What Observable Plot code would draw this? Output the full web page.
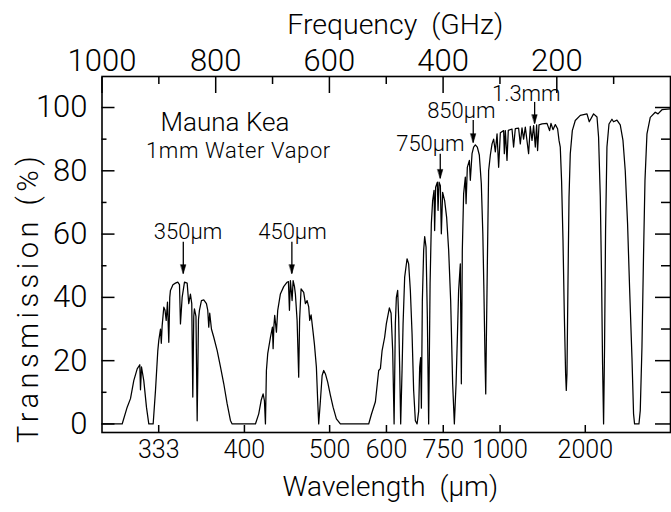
<!DOCTYPE html>
<html><head><meta charset="utf-8">
<script src="https://cdn.jsdelivr.net/npm/d3@7"></script>
<script src="https://cdn.jsdelivr.net/npm/@observablehq/plot@0.6"></script>
<style>body{margin:0;background:#fff}</style>
</head><body><div id="chart"></div>
<script>
const C = 299792.458; // wavelength (µm) × frequency (GHz)

// [frequency GHz, transmission %]
const spectrumPoints = [
[1000,0],[964.5,0],[955.7,5.3],[949.9,8],[944.1,13.7],[938.1,17.4],[933.5,18.7],[932.3,10.8],[930.5,18],[926.5,13.7],[921.8,5.3],[917.7,0],[910,0],
[905.9,10.6],[901.9,23],[900.1,26.4],[897.1,30],[895.7,25.5],[894.2,31],[891.3,36.9],[889.2,36],[887.1,32.7],[884.8,38.5],[882.5,25.8],[880.8,40],[879.6,42.2],
[875.2,44],[870.8,44.5],[866.7,44.8],[863.7,44],[862,31.6],[859,40],[854.9,44.8],[850.2,44.5],[847.4,38],[844.4,41],[842.1,38],[840.3,8.5],[838.6,34],[837.4,36.4],
[834.7,34],[832.6,1],[830.3,33],[828.6,35.9],[825.1,39],[821,39.2],[816.3,38],[814,36],[812.2,30.6],[810.5,35],[807.5,30],[803.4,27.4],[797.4,23.2],[791.6,18],
[785.8,12.7],[779.9,6.4],[774.1,1.1],[771.1,0],
[730.1,0],[724.3,3.2],[720.1,7.4],[716.6,9.5],[714.3,7.4],[712.5,0],[710.8,16.9],[708.5,22.2],[703.7,27.4],[700.2,30.6],[699,23.8],[697.6,31],[696.2,34.3],
[693.2,29],[690.9,35.9],[686.2,41.1],[680.4,43.4],[674.4,44.8],[672.1,45],[670.3,35.9],[668.6,45.3],[665.6,39],[663.8,45.3],[661.5,43.5],[659.8,41],[656.8,32.7],
[654,14.8],[652.4,33],[649.8,42.7],[645.2,41.6],[642.2,38],[639.2,39],[636.4,37],[634.6,32.7],[632.2,34.5],[628.7,29],[626.4,25.3],[622.9,18],[620.6,7.4],[618.8,0],
[615.8,7.4],[612.8,15.3],[610,16.9],[607,15.8],[603,13.2],[598.2,9],[593.5,5.3],[587.7,1.6],[580.7,0],
[530.9,0],[526.2,3],[519.1,7],[513.3,16.9],[510.3,17.5],[507.3,23.2],[502.8,27.4],[499.8,31.7],[494.5,36.7],[491.5,35],[488.7,23.2],[486.2,0],[484,31.7],[482.2,40],
[479.9,42.2],[478.2,33.7],[476.4,18],[474.6,0],[472.2,17],[470.4,31.7],[467.6,46.4],[463.4,52.2],[460.6,50.6],[457.6,42.2],[454.6,28.5],[451.8,10.6],[448.8,1],[445.8,0],
[443,4],[441.2,18],[439.5,21],[438.2,5],[436.5,39],[434.2,54.8],[432.4,59.2],[430,55.9],[427.7,33.7],[425.4,0],[422.9,44.3],[420.7,63.3],[418.4,70.6],[415.9,73.8],
[414.9,61.1],[413.1,74.8],[410.1,76.4],[408.9,67.5],[407.1,76.4],[404.8,75.3],[403.1,60.1],[400.8,73.2],[397.3,70.6],[393.8,65.3],[390.2,54.8],[386.7,39],[383.2,12.7],
[380.2,0],[377.2,12.7],[374.9,27.4],[372.7,42.2],[369.7,50.6],[367.9,12.7],[366.2,54.8],[363.9,72.7],[360.9,78],[359.6,69.6],[357.4,81.1],[353.8,83.3],[352.1,77],
[349.1,85.4],[346.3,87.5],[343.3,88.2],[339.8,87.5],[336.3,85],[332.8,76],[330.1,60],[328.4,44],[326.2,20],[325,9.5],[324,25],[322.2,50],[319.9,80],[316.9,85],
[313.9,88.5],[311.1,90],[308.1,86],[305.1,91.7],[302.3,81.1],[299.3,92],[293.5,92.7],[292.3,85.4],[290.5,92.7],[287.6,83.3],[285.3,92.8],[278.8,93.2],[276,87.5],
[273,93.3],[267.2,93.5],[264.2,88.5],[261.2,93.6],[258.4,90],[255.4,93.8],[249.6,85.4],[246.6,94],[243.6,89.6],[240.8,94.3],[237.8,87.5],[235.5,94.5],[233.8,86.4],
[231.3,94.5],[226,94.8],[217.2,95],[212.7,92.7],[210.2,95],[206.7,93],[202.6,94.6],[198.6,93.3],[196.1,89.6],[193.9,87.5],[191.6,76.9],[189.1,58],[186.8,34.8],
[184.5,15.9],[183.3,10.6],[182.1,15.9],[180.3,45.3],[178.5,71.7],[176.3,85.4],[172.7,92.7],[167.5,95.9],[158.7,97.5],[146.9,98],[142.9,95.5],[135.3,98],[129.3,97],
[126.5,90.6],[123.5,71.7],[121.2,45.3],[119.5,19],[117.7,0],[116,24.3],[114.2,61.1],[111.8,87.5],[108.2,94.8],[103,96.3],[100.2,95.5],[94.2,96],[88.4,94.5],
[83.6,89.6],[79.6,80],[75.5,63.2],[72,43.2],[67.8,21.1],[65,3.2],[63.2,0],[55.5,0],[53.2,4.2],[50.2,24.3],[47.4,53.8],[44.9,76.9],[41.4,91.7],[35.6,96.9],
[26.8,98.5],[22,98],[15,99.3],[0,99.6]
];

const freqMajorTicks = [1000, 800, 600, 400, 200];
const freqMinorTicks = [900, 700, 500, 300, 100];
const wavelengthTicks = [333, 400, 500, 600, 750, 1000, 2000];
const transMajorTicks = [0, 20, 40, 60, 80, 100];
const transMinorTicks = [10, 30, 50, 70, 90];

const bandNames = ["350μm", "450μm", "750μm", "850μm", "1.3mm"];
const bandLabelFreq = [848.8, 665, 422.4, 367.9, 253.7];
const bandLabelT = [58.6, 58.6, 86.1, 96.8, 102.2];
const arrowFreq = [857, 666, 405, 347, 239];
const arrowFromT = [57.4, 57.4, 85.2, 95.9, 101.6];
const arrowToT = [47.5, 47.5, 77.6, 88.9, 94.9];

const siteLines = ["Mauna Kea", "1mm Water Vapor"];
const siteFreq = [783.7, 760];
const siteT = [92.7, 83.9];
const siteSize = [26, 22];

const spectrum = spectrumPoints.map(([f, t]) => ({f, t}));
const bands = bandNames.map((name, i) => ({name, f: bandLabelFreq[i], t: bandLabelT[i]}));
const arrows = arrowFreq.map((f, i) => ({f, t1: arrowFromT[i], t2: arrowToT[i]}));
const site = siteLines.map((text, i) => ({text, f: siteFreq[i], t: siteT[i], size: siteSize[i]}));

// narrow filled arrowhead, tip at the vector's end
const arrowHead = {
  draw(context, l) {
    context.moveTo(0, -l);
    context.lineTo(-2.6, 0);
    context.lineTo(2.6, 0);
    context.closePath();
  }
};

const blank = () => "";
const chart = Plot.plot({
  width: 671, height: 512,
  marginLeft: 101.5, marginRight: 1, marginTop: 76, marginBottom: 80,
  style: {fontFamily: "Roboto, sans-serif", fontWeight: 300, background: "white", color: "black"},
  x: {type: "linear", domain: [1000, 0], label: null},
  y: {domain: [-2.7, 109.8], label: null},
  marks: [
    Plot.line(spectrum, {x: "f", y: "t", stroke: "black", strokeWidth: 1.25}),
    Plot.frame({stroke: "black", strokeWidth: 1.6}),
    Plot.axisX(freqMajorTicks, {anchor: "top", tickSize: -16, tickPadding: 22, fontSize: 31, fontWeight: 300, strokeWidth: 1.5, label: null, tickFormat: d => String(d)}),
    Plot.axisX(freqMinorTicks, {anchor: "top", tickSize: -7, strokeWidth: 1.5, label: null, tickFormat: blank}),
    Plot.axisX(wavelengthTicks.map(w => C / w), {anchor: "bottom", tickSize: -7, tickPadding: 15, fontSize: 25, fontWeight: 300, strokeWidth: 1.5, label: null, tickFormat: f => String(Math.round(C / f))}),
    Plot.axisY(transMajorTicks, {anchor: "left", tickSize: -13, tickPadding: 27.5, fontSize: 31, fontWeight: 300, strokeWidth: 1.5, label: null}),
    Plot.axisY(transMinorTicks, {anchor: "left", tickSize: -5, strokeWidth: 1.5, label: null, tickFormat: blank}),
    Plot.axisY(transMajorTicks, {anchor: "right", tickSize: -16, strokeWidth: 1.5, label: null, tickFormat: blank}),
    Plot.axisY(transMinorTicks, {anchor: "right", tickSize: -10, strokeWidth: 1.5, label: null, tickFormat: blank}),
    Plot.text(["Frequency (GHz)"], {frameAnchor: "top", dx: 9, dy: -43, fontSize: 28.5, fontWeight: 300, lineAnchor: "bottom"}),
    Plot.text(["Wavelength (μm)"], {frameAnchor: "bottom", dx: 4, dy: 63, fontSize: 28, fontWeight: 300, lineAnchor: "bottom"}),
    Plot.text(["Transmission (%)"], {frameAnchor: "left", y: 40, dx: -73, rotate: -90, fontSize: 29, fontWeight: 300, textAnchor: "middle", lineAnchor: "middle"}),
    Plot.text(site, {x: "f", y: "t", text: "text", fontSize: d => d.size, fontWeight: 300, lineAnchor: "bottom"}),
    Plot.text(bands, {x: "f", y: "t", text: "name", fontSize: 22, fontWeight: 300, lineAnchor: "bottom"}),
    Plot.ruleX(arrows, {x: "f", y1: "t1", y2: "t2", stroke: "black", strokeWidth: 1.3}),
    Plot.vector(arrows, {x: "f", y: "t2", length: 9, rotate: 180, anchor: "end", shape: arrowHead, fill: "black", stroke: "black", strokeWidth: 0.5})
  ]
});
document.getElementById("chart").appendChild(chart);
d3.select(chart).selectAll("text").each(function () {
  const s = this.textContent;
  if (s === "Transmission (%)") this.setAttribute("letter-spacing", "4.5");
  if (s === "1mm Water Vapor") this.setAttribute("letter-spacing", "0.6");
  if (s === "Frequency (GHz)" || s === "Wavelength (μm)") this.setAttribute("word-spacing", "7");
});
</script>
</body></html>
